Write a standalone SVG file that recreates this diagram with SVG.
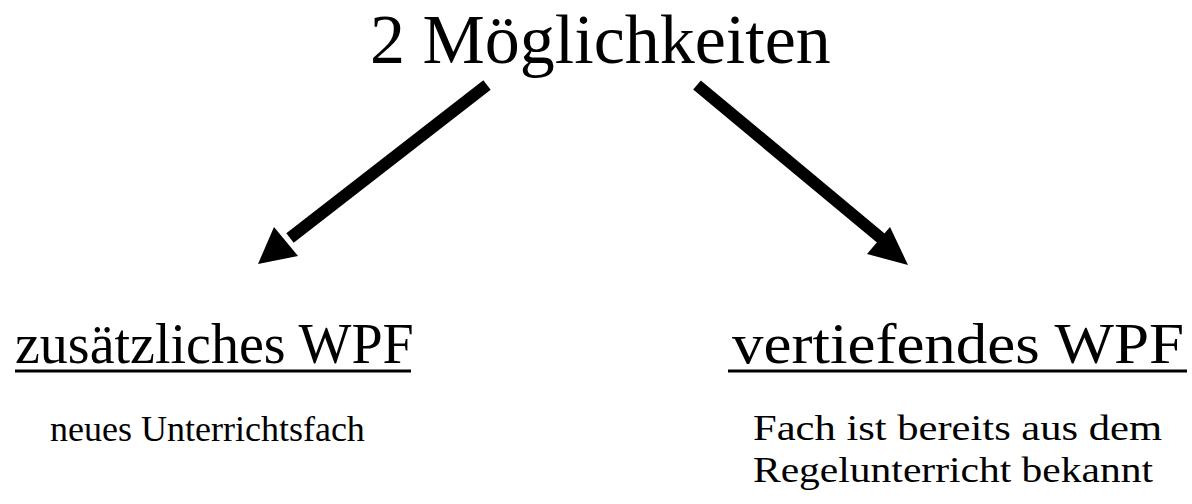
<svg xmlns="http://www.w3.org/2000/svg" width="1192" height="504" viewBox="0 0 1192 504">
<style>
text{font-family:"Liberation Serif","Times New Roman",serif;fill:#000}
.t{font-size:70px}
.h{font-size:56px}
.s{font-size:36px}
.u{stroke:#000;stroke-width:3}
.c{stroke:#000;stroke-width:12;fill:none}
</style>
<rect width="1192" height="504" fill="#fff"/>
<g id="title"><text class="t" x="370" y="63">2 Möglichkeiten</text></g>
<g id="connectors">
<line class="c" x1="487" y1="85" x2="290" y2="238"/>
<polygon points="258,264 274,227 298,256" fill="#000"/>
<line class="c" x1="697" y1="85" x2="882" y2="239"/>
<polygon points="908,265 890,227 867,254" fill="#000"/>
</g>
<g id="left">
<text class="h" x="15" y="363">zusätzliches WPF</text>
<line class="u" x1="15" y1="371" x2="411" y2="371"/>
<text class="s" x="50" y="441">neues Unterrichtsfach</text>
</g>
<g id="right">
<text class="h" x="732" y="363" textLength="452" lengthAdjust="spacingAndGlyphs">vertiefendes WPF</text>
<line class="u" x1="728" y1="371" x2="1187" y2="371"/>
<text class="s" x="753" y="440" textLength="409" lengthAdjust="spacingAndGlyphs">Fach ist bereits aus dem</text>
<text class="s" x="753" y="482" textLength="400" lengthAdjust="spacingAndGlyphs">Regelunterricht bekannt</text>
</g>
</svg>
